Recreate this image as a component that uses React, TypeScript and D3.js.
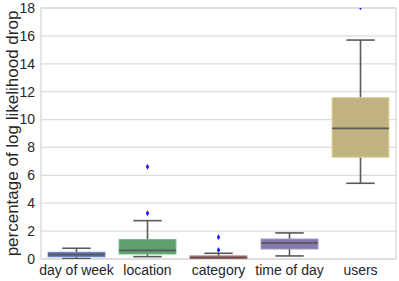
import React from "react";
import * as d3 from "d3";

// box stats (percent)
const categories = ["day of week", "location", "category", "time of day", "users"];
const whiskerLow = [0.03, 0.17, 0.0, 0.22, 5.43];
const q1 = [0.16, 0.36, 0.02, 0.72, 7.3];
const median = [0.31, 0.62, 0.1, 1.15, 9.37];
const q3 = [0.48, 1.39, 0.22, 1.43, 11.57];
const whiskerHigh = [0.77, 2.75, 0.41, 1.87, 15.7];
const outliers = [[], [3.28, 6.62], [0.65, 1.56], [], [18.05]];
const yTicks = [0, 2, 4, 6, 8, 10, 12, 14, 16, 18];

const colors = ["#5875a4", "#5f9e6e", "#b55d60", "#857aab", "#c1b37f"];

const W = 399;
const H = 281;
const margin = { left: 41, right: 3, top: 8, bottom: 22 };

export default function App() {
  const x = d3
    .scaleBand()
    .domain(categories)
    .range([margin.left, W - margin.right]);
  const y = d3
    .scaleLinear()
    .domain([0, 18])
    .range([H - margin.bottom, margin.top]);

  const bw = x.bandwidth() * 0.8;
  const font = "'Liberation Sans', Arial, sans-serif";
  const line = "#595959";

  return (
    <svg
      width={W}
      height={H}
      style={{ position: "absolute", left: 0, top: 0, background: "#fff" }}
      fontFamily={font}
    >
      <defs>
        <clipPath id="plot">
          <rect
            x={margin.left}
            y={margin.top}
            width={W - margin.left - margin.right}
            height={H - margin.top - margin.bottom}
          />
        </clipPath>
      </defs>

      {/* grid */}
      {yTicks.map((t) => (
        <line
          key={t}
          x1={margin.left}
          x2={W - margin.right}
          y1={y(t)}
          y2={y(t)}
          stroke="#dcdcdc"
          strokeWidth={1.2}
        />
      ))}
      <rect
        x={margin.left}
        y={margin.top}
        width={W - margin.left - margin.right}
        height={H - margin.top - margin.bottom}
        fill="none"
        stroke="#d4d4d4"
        strokeWidth={1.2}
      />

      {/* y ticks */}
      {yTicks.map((t) => (
        <text
          key={t}
          x={margin.left - 6}
          y={y(t)}
          dy="0.35em"
          textAnchor="end"
          fontSize={14}
          fill="#262626"
        >
          {t}
        </text>
      ))}

      {/* x ticks */}
      {categories.map((c) => (
        <text
          key={c}
          x={x(c)! + x.bandwidth() / 2}
          y={H - margin.bottom + 16}
          textAnchor="middle"
          fontSize={14}
          fill="#262626"
        >
          {c}
        </text>
      ))}

      <text
        transform={`translate(18,${(margin.top + H - margin.bottom) / 2}) rotate(-90)`}
        textAnchor="middle"
        fontSize={17}
        fill="#262626"
      >
        percentage of log likelihood drop
      </text>

      <g clipPath="url(#plot)">
        {categories.map((c, i) => {
          const cx = x(c)! + x.bandwidth() / 2;
          return (
            <g key={c}>
              <line x1={cx} x2={cx} y1={y(q3[i])} y2={y(whiskerHigh[i])} stroke={line} strokeWidth={1.6} />
              <line x1={cx} x2={cx} y1={y(q1[i])} y2={y(whiskerLow[i])} stroke={line} strokeWidth={1.6} />
              <line x1={cx - bw / 4} x2={cx + bw / 4} y1={y(whiskerHigh[i])} y2={y(whiskerHigh[i])} stroke={line} strokeWidth={1.6} />
              <line x1={cx - bw / 4} x2={cx + bw / 4} y1={y(whiskerLow[i])} y2={y(whiskerLow[i])} stroke={line} strokeWidth={1.6} />
              <rect
                x={cx - bw / 2}
                y={y(q3[i])}
                width={bw}
                height={y(q1[i]) - y(q3[i])}
                fill={colors[i]}
                stroke={d3.color(colors[i])!.brighter(0.4).formatHex()}
                strokeWidth={1}
              />
              <line x1={cx - bw / 2} x2={cx + bw / 2} y1={y(median[i])} y2={y(median[i])} stroke={line} strokeWidth={1.8} />
              {outliers[i].map((v, j) => (
                <path
                  key={j}
                  d={`M${cx},${y(v) - 3}L${cx + 1.7},${y(v)}L${cx},${y(v) + 3}L${cx - 1.7},${y(v)}Z`}
                  fill="#1a1aff"
                />
              ))}
            </g>
          );
        })}
      </g>
    </svg>
  );
}
